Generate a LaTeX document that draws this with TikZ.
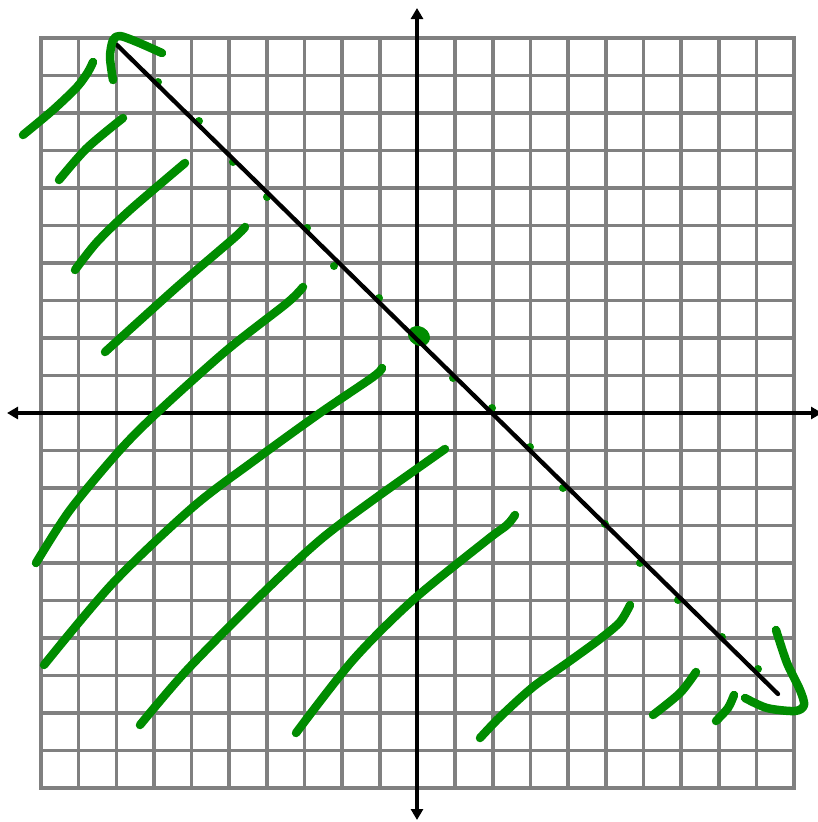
\documentclass[tikz,border=0pt]{standalone}
\usetikzlibrary{arrows.meta}
\definecolor{gridgray}{RGB}{128,128,128}
\definecolor{hatch}{RGB}{0,140,0}
\begin{document}
\begin{tikzpicture}[x=1pt,y=-1pt,
  gridline/.style={draw=gridgray,line width=3.6pt,line cap=rect},
  axis/.style={line width=4.2pt,{Triangle[length=11pt,width=12pt]}-{Triangle[length=11pt,width=12pt]}},
  bound/.style={line width=4.3pt,line cap=round},
  hatchstroke/.style={draw=hatch,line width=8.5pt,line cap=round,line join=round},
  ptdot/.style={fill=hatch}]
\useasboundingbox (0,0) rectangle (818,822);
\fill[white] (0,0) rectangle (818,822);
% grid
\foreach \i in {0,...,20} {
  \draw[gridline] ({41+37.65*\i},38) -- ({41+37.65*\i},788);
  \draw[gridline] (41,{38+37.5*\i}) -- (794,{38+37.5*\i});
}
% axes
\coordinate (xl) at (7,413);
\coordinate (xr) at (822,413);
\coordinate (yt) at (417,8);
\coordinate (yb) at (417,820);
\draw[axis] (xl) -- (xr);
\draw[axis] (yb) -- (yt);
% plotted points
\foreach \p in {(158,82),(199,121),(233,162),(267,197),(307,228),(334,266),(379,298),(453,378),(492,408),(530,447),(563,488),(605,524),(640,563),(678,600),(722,637),(758,669)}
  \fill[ptdot] \p circle (4);
\fill[ptdot,rotate around={-30:(419,336)}] (419,336) ellipse (11.5 and 9.5);
% boundary line
\coordinate (L1) at (117,45);
\coordinate (L2) at (778,694);
\draw[bound] (L1) -- (L2);
% hatching
\draw[hatchstroke] plot[smooth] coordinates {(23,135) (53,110) (77,87) (88,72) (93,62)};
\draw[hatchstroke] plot[smooth] coordinates {(59,180) (87,148) (123,118)};
\draw[hatchstroke] plot[smooth] coordinates {(75,270) (97,242) (130,210) (185,163)};
\draw[hatchstroke] plot[smooth] coordinates {(105,352) (177,287) (234,238) (245,227)};
\draw[hatchstroke] plot[smooth] coordinates {(36,563) (70,510) (120,450) (160,410) (227,350) (287,303) (303,287)};
\draw[hatchstroke] plot[smooth] coordinates {(44,665) (113,583) (193,507) (255,460) (320,413) (373,377) (382,368)};
\draw[hatchstroke] plot[smooth] coordinates {(140,725) (187,670) (263,593) (320,540) (373,500) (445,449)};
\draw[hatchstroke] plot[smooth] coordinates {(296,733) (353,660) (413,600) (487,540) (507,525) (515,515)};
\draw[hatchstroke] plot[smooth] coordinates {(480,738) (500,717) (533,687) (567,663) (600,639) (620,622) (630,605)};
\draw[hatchstroke] plot[smooth] coordinates {(653,715) (680,693) (696,672)};
\draw[hatchstroke] plot[smooth] coordinates {(716,721) (728,708) (734,695)};
% hand-drawn arrowheads
\draw[hatchstroke] plot[smooth] coordinates {(113,80) (110,57) (113,40) (120,36) (137,42) (162,53)};
\draw[hatchstroke] plot[smooth] coordinates {(776,630) (787,663) (800,690) (804,705) (795,711) (767,708) (745,698)};
\end{tikzpicture}
\end{document}
